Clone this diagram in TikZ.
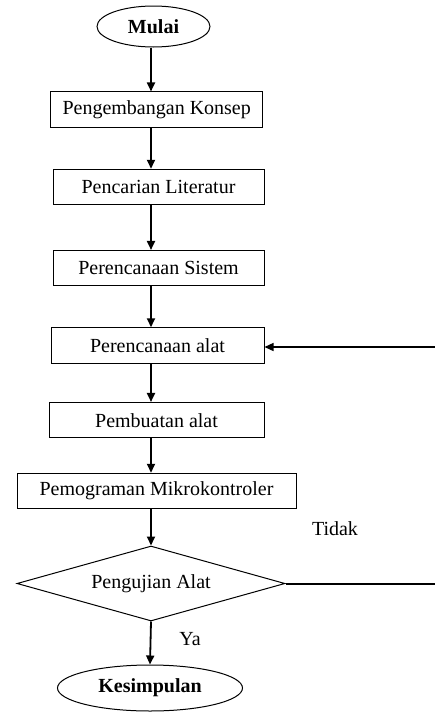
\documentclass[tikz,border=0pt]{standalone}
\usepackage{fontspec}
\setmainfont{Liberation Serif}
\usetikzlibrary{shapes.geometric,arrows.meta}
\begin{document}
\begin{tikzpicture}[x=1pt,y=-1pt,
  every node/.style={font=\fontsize{20}{24}\selectfont},
  procbox/.style={draw,line width=1pt,rectangle,inner sep=0pt,minimum height=35.5pt},
  termbox/.style={draw,line width=1pt,ellipse,inner sep=0pt,font=\fontsize{20}{24}\selectfont\bfseries},
  decbox/.style={draw,line width=1pt,diamond,inner sep=0pt,shape aspect=3.573,minimum width=268pt,minimum height=75pt},
  arr/.style={line width=1.8pt,-{Triangle[length=9pt,width=8pt]}},
  fbarr/.style={line width=1.3pt,-{Triangle[length=9pt,width=8pt]}},
  fbline/.style={line width=2pt}]
\useasboundingbox (0,0) rectangle (435,713);
\node[termbox,minimum width=113pt,minimum height=41pt] (mulai) at (153.5,26.5) {Mulai};
\node[procbox,minimum width=212pt] (b1) at (156.7,109.7) {Pengembangan Konsep};
\node[procbox,minimum width=211pt] (b2) at (158.5,187) {Pencarian Literatur};
\node[procbox,minimum width=211pt] (b3) at (158.5,268.2) {Perencanaan Sistem};
\node[procbox,minimum width=213pt] (b4) at (157.5,345.5) {Perencanaan alat};
\node[procbox,minimum width=215pt] (b5) at (156.5,420.2) {Pembuatan alat};
\node[procbox,minimum width=279pt] (b6) at (156.5,491) {Pemograman Mikrokontroler};
\node[decbox] (uji) at (151,583.5) {Pengujian Alat};
\node[termbox,minimum width=185pt,minimum height=46pt] (kes) at (150,688) {Kesimpulan};
\node (tidak) at (335,529) {Tidak};
\node (ya) at (190,639) {Ya};
\coordinate (ax) at (151,0);
\coordinate (fbend) at (435,583.5);
\coordinate (fbstart) at (435,347);
\draw[arr] (mulai.south -| ax) -- (b1.north -| ax);
\draw[arr] (b1.south -| ax) -- (b2.north -| ax);
\draw[arr] (b2.south -| ax) -- (b3.north -| ax);
\draw[arr] (b3.south -| ax) -- (b4.north -| ax);
\draw[arr] (b4.south -| ax) -- (b5.north -| ax);
\draw[arr] (b5.south -| ax) -- (b6.north -| ax);
\draw[arr] (b6.south -| ax) -- (uji.north);
\draw[arr] (uji.south) -- (kes.north);
\draw[fbline] (uji.east) -- (fbend);
\draw[fbarr] (fbstart) -- (b4.east |- fbstart);
\end{tikzpicture}
\end{document}
